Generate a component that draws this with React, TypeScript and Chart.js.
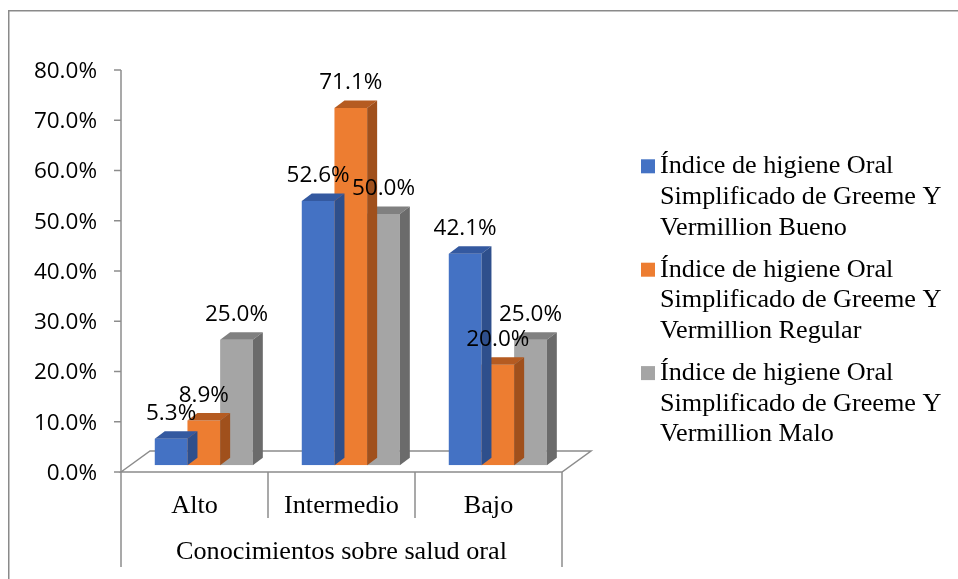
import React, { useEffect, useRef } from "react";
import { Chart, registerables } from "chart.js";

Chart.register(...registerables);

// ---- data ----
const categories = ["Alto", "Intermedio", "Bajo"];
const seriesNames = [
  "Índice de higiene Oral Simplificado de Greeme Y Vermillion Bueno",
  "Índice de higiene Oral Simplificado de Greeme Y Vermillion Regular",
  "Índice de higiene Oral Simplificado de Greeme Y Vermillion Malo",
];
const bueno = [5.3, 52.6, 42.1];
const regular = [8.9, 71.1, 20.0];
const malo = [25.0, 50.0, 25.0];
const yTickValues = [0, 10, 20, 30, 40, 50, 60, 70, 80];
const axisTitle = "Conocimientos sobre salud oral";

// ---- styles ----
const W = 958;
const H = 579;
const frontColors = ["#4472C4", "#ED7D31", "#A5A5A5"];
const topColors = ["#3459A0", "#B55B21", "#808080"];
const sideColors = ["#2E4F8C", "#A0501C", "#6B6B6B"];
const lineColor = "#8c8c8c";
const DEPTH_X = 9.3;
const DEPTH_Y = -6.7;
const BAR_DX = 10;
const BAR_DY = -7.5;
const FLOOR_DX = 29;
const FLOOR_DY = -21;
const sansFont = "22.5px 'Open Sans'";
const serifFont = "26.2px 'Liberation Serif'";

function wrapText(ctx: CanvasRenderingContext2D, text: string, maxW: number): string[] {
  const words = text.split(" ");
  const lines: string[] = [];
  let cur = "";
  for (const w of words) {
    const test = cur ? cur + " " + w : w;
    if (cur && ctx.measureText(test).width > maxW) {
      lines.push(cur);
      cur = w;
    } else cur = test;
  }
  if (cur) lines.push(cur);
  return lines;
}

const excel3d = {
  id: "excel3d",
  beforeDraw(chart: any) {
    const { ctx, chartArea: a, scales } = chart;
    const ys = scales.y;
    const xs = scales.x;
    ctx.save();
    ctx.fillStyle = "#fff";
    ctx.fillRect(0, 0, chart.width, chart.height);
    // outer frame
    ctx.strokeStyle = "#8a8a8a";
    ctx.lineWidth = 1.5;
    ctx.beginPath();
    ctx.moveTo(8.75, chart.height + 5);
    ctx.lineTo(8.75, 10.75);
    ctx.lineTo(chart.width + 5, 10.75);
    ctx.stroke();

    const y0 = ys.getPixelForValue(0);
    ctx.strokeStyle = lineColor;
    ctx.lineWidth = 1.5;
    // floor
    ctx.beginPath();
    ctx.moveTo(a.left, y0);
    ctx.lineTo(a.left + FLOOR_DX, y0 + FLOOR_DY);
    ctx.lineTo(a.right + FLOOR_DX, y0 + FLOOR_DY);
    ctx.lineTo(a.right, y0);
    ctx.closePath();
    ctx.stroke();
    // y axis
    const yTop = ys.getPixelForValue(yTickValues[yTickValues.length - 1]);
    ctx.beginPath();
    ctx.moveTo(a.left, yTop);
    ctx.lineTo(a.left, y0);
    ctx.stroke();
    // ticks + labels
    ctx.fillStyle = "#000";
    ctx.font = sansFont;
    ctx.textAlign = "right";
    ctx.textBaseline = "middle";
    for (const v of yTickValues) {
      const y = ys.getPixelForValue(v);
      ctx.beginPath();
      ctx.moveTo(a.left - 7, y);
      ctx.lineTo(a.left, y);
      ctx.stroke();
      ctx.fillText(v.toFixed(1) + "%", a.left - 24, y + 1.5);
    }
    // category separators
    const n = categories.length;
    for (let i = 0; i <= n; i++) {
      const x = xs.getPixelForValue(i - 0.5);
      const yEnd = i === 0 || i === n ? y0 + 95 : y0 + 46;
      ctx.beginPath();
      ctx.moveTo(x, y0);
      ctx.lineTo(x, yEnd);
      ctx.stroke();
    }
    // category labels
    ctx.font = serifFont;
    ctx.textAlign = "center";
    ctx.textBaseline = "alphabetic";
    categories.forEach((c, i) => {
      ctx.fillText(c, xs.getPixelForValue(i), y0 + 40.5);
    });
    ctx.fillText(axisTitle, (a.left + a.right) / 2, y0 + 86.5);
    ctx.restore();
  },
  beforeDatasetsDraw(chart: any) {
    chart.ctx.save();
    chart.ctx.translate(DEPTH_X, DEPTH_Y);
  },
  afterDatasetDraw(chart: any, args: any) {
    const { ctx } = chart;
    const di = args.index;
    const meta = chart.getDatasetMeta(di);
    ctx.save();
    meta.data.forEach((el: any) => {
      const { x, y, base, width } = el.getProps(["x", "y", "base", "width"], true);
      const l = x - width / 2;
      const r = x + width / 2;
      ctx.fillStyle = topColors[di];
      ctx.beginPath();
      ctx.moveTo(l, y);
      ctx.lineTo(l + BAR_DX, y + BAR_DY);
      ctx.lineTo(r + BAR_DX, y + BAR_DY);
      ctx.lineTo(r, y);
      ctx.closePath();
      ctx.fill();
      ctx.fillStyle = sideColors[di];
      ctx.beginPath();
      ctx.moveTo(r, y);
      ctx.lineTo(r + BAR_DX, y + BAR_DY);
      ctx.lineTo(r + BAR_DX, base + BAR_DY);
      ctx.lineTo(r, base);
      ctx.closePath();
      ctx.fill();
    });
    ctx.restore();
  },
  afterDatasetsDraw(chart: any) {
    const { ctx } = chart;
    // data labels (still in translated bar plane)
    ctx.fillStyle = "#000";
    ctx.font = sansFont;
    ctx.textAlign = "center";
    ctx.textBaseline = "middle";
    chart.data.datasets.forEach((ds: any, di: number) => {
      const meta = chart.getDatasetMeta(di);
      meta.data.forEach((el: any, i: number) => {
        const { x, y } = el.getProps(["x", "y"], true);
        ctx.fillText(Number(ds.data[i]).toFixed(1) + "%", x, y - 25);
      });
    });
    ctx.restore();

    // legend
    ctx.save();
    ctx.font = serifFont;
    ctx.textAlign = "left";
    ctx.textBaseline = "alphabetic";
    const lineH = 30.6;
    const entryH = 103.4;
    chart.data.datasets.forEach((ds: any, di: number) => {
      const base = 173.3 + di * entryH;
      ctx.fillStyle = frontColors[di];
      ctx.fillRect(641, base - 14, 14, 14);
      ctx.fillStyle = "#000";
      const lines = wrapText(ctx, ds.label, 300);
      lines.forEach((ln, k) => ctx.fillText(ln, 660, base + k * lineH));
    });
    ctx.restore();
  },
};

export default function App() {
  const ref = useRef<HTMLCanvasElement>(null);
  useEffect(() => {
    if (!ref.current) return;
    const seriesValues = [bueno, regular, malo];
    const chart = new Chart(ref.current, {
      type: "bar",
      data: {
        labels: categories,
        datasets: seriesValues.map((vals, i) => ({
          label: seriesNames[i],
          data: vals,
          backgroundColor: frontColors[i],
          borderWidth: 0,
          categoryPercentage: 0.667,
          barPercentage: 1.0,
        })),
      },
      options: {
        responsive: false,
        animation: false,
        devicePixelRatio: 1,
        layout: { padding: { left: 121, top: 70, right: W - 562, bottom: H - 472 } },
        plugins: { legend: { display: false }, tooltip: { enabled: false } },
        scales: {
          x: { display: false },
          y: { display: false, min: 0, max: 80, ticks: { stepSize: 10 } },
        },
      },
      plugins: [excel3d],
    });
    return () => chart.destroy();
  }, []);
  return (
    <div style={{ position: "absolute", left: 0, top: 0, width: W, height: H }}>
      <canvas ref={ref} width={W} height={H} style={{ display: "block" }} />
    </div>
  );
}
